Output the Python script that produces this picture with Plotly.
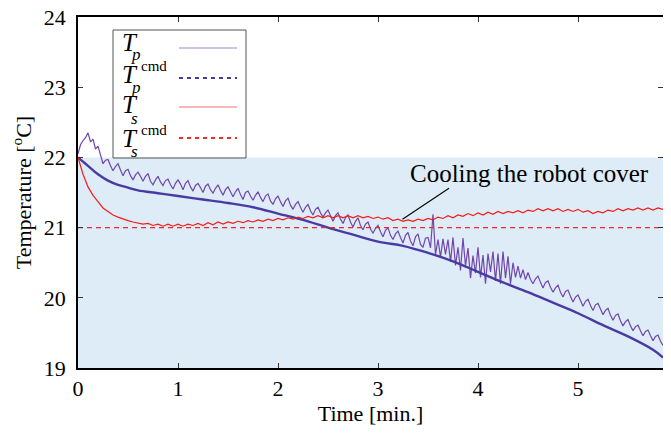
import plotly.graph_objects as go

# ---------------- data ----------------
time_p = [round(i * 0.025, 3) for i in range(235)]  # sample times of T_p [min]

tp = [22.05, 22.18, 22.24, 22.28, 22.35, 22.22, 22.26, 22.12, 22.16, 22.02,
      21.91, 21.96, 21.97, 21.88, 21.81, 21.87, 21.91, 21.82, 21.74, 21.81,
      21.83, 21.74, 21.68, 21.75, 21.79, 21.73, 21.66, 21.73, 21.77, 21.66,
      21.61, 21.68, 21.73, 21.65, 21.60, 21.67, 21.69, 21.61, 21.55, 21.63,
      21.68, 21.62, 21.54, 21.63, 21.67, 21.58, 21.52, 21.60, 21.63, 21.57,
      21.50, 21.59, 21.62, 21.54, 21.49, 21.56, 21.61, 21.53, 21.46, 21.54,
      21.58, 21.51, 21.44, 21.51, 21.56, 21.47, 21.40, 21.50, 21.52, 21.45,
      21.39, 21.46, 21.51, 21.43, 21.37, 21.45, 21.48, 21.38, 21.33, 21.41,
      21.45, 21.37, 21.30, 21.38, 21.42, 21.32, 21.26, 21.33, 21.37, 21.29,
      21.22, 21.29, 21.33, 21.24, 21.18, 21.26, 21.29, 21.21, 21.15, 21.21,
      21.25, 21.17, 21.09, 21.17, 21.21, 21.12, 21.06, 21.14, 21.18, 21.08,
      21.01, 21.09, 21.14, 21.03, 20.97, 21.05, 21.08, 20.98, 20.92, 20.99,
      21.03, 20.94, 20.87, 20.96, 21.00, 20.89, 20.83, 20.91, 20.95, 20.86,
      20.78, 20.89, 20.93, 20.81, 20.74, 20.87, 20.91, 20.76, 20.72, 20.85,
      20.86, 20.71, 21.19, 20.62, 20.83, 20.58, 20.84, 20.62, 20.83, 20.51,
      20.86, 20.46, 20.72, 20.39, 20.85, 20.45, 20.71, 20.28, 20.60, 20.35,
      20.72, 20.29, 20.61, 20.20, 20.63, 20.37, 20.66, 20.24, 20.63, 20.20,
      20.66, 20.28, 20.59, 20.20, 20.50, 20.29, 20.45, 20.28, 20.40, 20.26,
      20.36, 20.26, 20.20, 20.27, 20.31, 20.22, 20.14, 20.22, 20.24, 20.15,
      20.08, 20.14, 20.18, 20.08, 20.01, 20.09, 20.11, 20.02, 19.94, 20.01,
      20.04, 19.96, 19.88, 19.95, 19.98, 19.89, 19.82, 19.90, 19.92, 19.84,
      19.76, 19.82, 19.85, 19.75, 19.68, 19.75, 19.77, 19.67, 19.60, 19.66,
      19.69, 19.60, 19.53, 19.59, 19.61, 19.53, 19.46, 19.52, 19.54, 19.46,
      19.39, 19.45, 19.47, 19.38, 19.32]

time_s = [round(i * 0.05, 2) for i in range(118)]  # sample times of T_s [min]

ts = [22.00, 21.76, 21.58, 21.46, 21.37, 21.28, 21.23, 21.18, 21.15, 21.12,
      21.10, 21.08, 21.07, 21.05, 21.06, 21.03, 21.05, 21.02, 21.05, 21.02,
      21.05, 21.02, 21.05, 21.03, 21.06, 21.03, 21.07, 21.04, 21.08, 21.05,
      21.08, 21.06, 21.09, 21.07, 21.10, 21.08, 21.11, 21.09, 21.12, 21.10,
      21.13, 21.11, 21.14, 21.12, 21.15, 21.13, 21.16, 21.14, 21.17, 21.14,
      21.17, 21.14, 21.17, 21.14, 21.17, 21.14, 21.17, 21.14, 21.16, 21.13,
      21.15, 21.12, 21.14, 21.10, 21.12, 21.09, 21.11, 21.09, 21.12, 21.10,
      21.13, 21.11, 21.15, 21.13, 21.17, 21.14, 21.18, 21.16, 21.20, 21.17,
      21.21, 21.18, 21.22, 21.19, 21.23, 21.20, 21.23, 21.21, 21.24, 21.21,
      21.25, 21.23, 21.27, 21.24, 21.27, 21.24, 21.27, 21.23, 21.26, 21.23,
      21.26, 21.22, 21.24, 21.20, 21.23, 21.21, 21.25, 21.23, 21.27, 21.24,
      21.27, 21.25, 21.28, 21.25, 21.28, 21.25, 21.28, 21.26]

time_cmd = [0, 0.05, 0.1, 0.2, 0.3, 0.4, 0.5, 0.6, 0.8, 1.0, 1.25, 1.5, 1.75,
            2.0, 2.25, 2.5, 2.75, 3.0, 3.25, 3.5, 3.75, 4.0, 4.25, 4.5, 4.75,
            5.0, 5.25, 5.5, 5.75, 5.85]
tp_cmd = [22.00, 21.94, 21.88, 21.76, 21.67, 21.61, 21.57, 21.53, 21.49, 21.45,
          21.40, 21.35, 21.29, 21.20, 21.11, 21.00, 20.90, 20.80, 20.74, 20.64,
          20.52, 20.37, 20.22, 20.08, 19.93, 19.78, 19.61, 19.45, 19.26, 19.15]

ts_cmd_time = [0, 5.85]
ts_cmd = [21.0, 21.0]

x_ticks = [0, 1, 2, 3, 4, 5]
y_ticks = [19, 20, 21, 22, 23, 24]
shade_range = [19, 22]

# ---------------- styles ----------------
FONT = "Liberation Serif, Times New Roman, Times, serif"
C_TP = "#7246ab"
C_TPCMD = "#4a3aa3"
C_TS = "#f51c1c"
C_TSCMD = "#f02a2a"

# the page body has an 8px margin: size the figure so the plot area lands
# at screen pixels x 78..663, y 17..368
OFF = 8
W, H = 657, 418
ML, MT = 78 - OFF, 17 - OFF
MR = W - ML - 585
MB = H - MT - 351
PX0, PY1 = 78, 368


def px(x):
    return (x - PX0) / 585


def py(y):
    return (PY1 - y) / 351


fig = go.Figure()
fig.add_trace(go.Scatter(x=time_p, y=tp, mode="lines",
                         line=dict(color=C_TP, width=1.2), name="Tp"))
fig.add_trace(go.Scatter(x=time_cmd, y=tp_cmd, mode="lines",
                         line=dict(color=C_TPCMD, width=2.4, shape="spline"),
                         name="Tp cmd"))
fig.add_trace(go.Scatter(x=time_s, y=ts, mode="lines",
                         line=dict(color=C_TS, width=1.2), name="Ts"))
fig.add_trace(go.Scatter(x=ts_cmd_time, y=ts_cmd, mode="lines",
                         line=dict(color=C_TSCMD, width=1.3, dash="5px,4px"),
                         name="Ts cmd"))

shapes = [
    dict(type="rect", xref="paper", x0=0, x1=1, yref="y",
         y0=shade_range[0], y1=shade_range[1],
         fillcolor="#ddecf6", line=dict(width=0), layer="below"),
    # legend box
    dict(type="rect", xref="paper", yref="paper",
         x0=px(113), x1=px(246), y0=py(158), y1=py(30),
         line=dict(color="#555555", width=1), fillcolor="rgba(0,0,0,0)"),
    # pointer line for the annotation
    dict(type="line", xref="x", yref="y", x0=3.71, y0=21.56, x1=3.245, y1=21.12,
         line=dict(color="black", width=1.2)),
]

annotations = [
    dict(text="Cooling the robot cover", xref="x", yref="y", x=4.51, y=21.77,
         showarrow=False, font=dict(family=FONT, size=25, color="black"),
         xanchor="center", yanchor="middle"),
]

# custom legend (text left, sample right)
legend_rows = [
    ("p", False, dict(color="#a283cc", width=1.2)),
    ("p", True, dict(color=C_TPCMD, width=2, dash="4px,4px")),
    ("s", False, dict(color="#f57070", width=1.2)),
    ("s", True, dict(color=C_TSCMD, width=2, dash="4px,4px")),
]
row_y = [42, 74, 105, 138]
sample_y = [48, 78, 107, 138]
for (sub, cmd, lstyle), yc, ys in zip(legend_rows, row_y, sample_y):
    annotations.append(dict(text="<i>T</i>", xref="paper", yref="paper",
                            x=px(120), y=py(yc), xanchor="left", yanchor="middle",
                            showarrow=False,
                            font=dict(family=FONT, size=25, color="black")))
    annotations.append(dict(text="<i>" + sub + "</i>", xref="paper", yref="paper",
                            x=px(129), y=py(yc + 13), xanchor="left", yanchor="middle",
                            showarrow=False,
                            font=dict(family=FONT, size=17, color="black")))
    if cmd:
        annotations.append(dict(text="cmd", xref="paper", yref="paper",
                                x=px(139), y=py(yc - 8), xanchor="left",
                                yanchor="middle", showarrow=False,
                                font=dict(family=FONT, size=15, color="black")))
    shapes.append(dict(type="line", xref="paper", yref="paper",
                       x0=px(179), x1=px(237), y0=py(ys), y1=py(ys),
                       line=lstyle))

axis_common = dict(showline=True, linecolor="black", linewidth=1.5, mirror="allticks",
                   ticks="inside", ticklen=5, tickcolor="#333333", tickwidth=1,
                   showgrid=False, zeroline=False, ticklabeloverflow="allow",
                   tickfont=dict(family=FONT, size=22, color="black"))

fig.update_layout(
    width=W, height=H,
    margin=dict(l=ML, r=MR, t=MT, b=MB, autoexpand=False),
    paper_bgcolor="white", plot_bgcolor="white",
    showlegend=False,
    font=dict(family=FONT, color="black"),
    shapes=shapes, annotations=annotations,
    xaxis=dict(range=[0, 5.85], tickvals=x_ticks, ticklabelstandoff=0,
               title=dict(text="Time [min.]", standoff=6,
                          font=dict(family=FONT, size=22, color="black")),
               **axis_common),
    yaxis=dict(range=[19, 24], tickvals=y_ticks, ticklabelstandoff=6,
               title=dict(text="Temperature [<sup>o</sup>C]", standoff=10,
                          font=dict(family=FONT, size=22, color="black")),
               **axis_common),
)

fig.write_html("out.html")
